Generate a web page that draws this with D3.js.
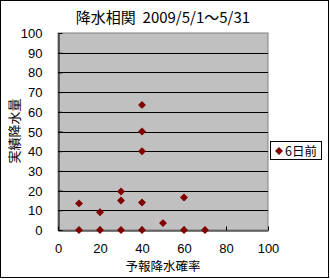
<!DOCTYPE html>
<html><head><meta charset="utf-8">
<script src="https://cdn.jsdelivr.net/npm/d3@7"></script>
<style>body{margin:0;background:#fff}svg{display:block}text{font-family:"Noto Sans CJK JP","Noto Sans",sans-serif;fill:#000}.num{font-family:"Liberation Sans",Arial,sans-serif}</style>
</head><body><svg id="c" width="330" height="279"></svg>
<script>
const title = "降水相関\u00a0\u00a02009/5/1～5/31";
const xTitle = "予報降水確率";
const yTitle = "実績降水量";
const seriesName = "6日前";
const xTicks = [0,20,40,60,80,100];
const yTicks = [0,10,20,30,40,50,60,70,80,90,100];
const forecast = [10,10,20,20,30,30,30,40,40,40,40,40,50,60,60,70];
const actual   = [13.5,0,9,0,19.5,15,0,63.5,50,40,14,0,3.5,16.5,0,0];

const svg = d3.select("#c");
const L=58,R=268,T=33,B=230;
const x = d3.scaleLinear().domain([0,100]).range([L,R]);
const y = d3.scaleLinear().domain([0,100]).range([B,T]);

svg.append("rect").attr("x",0.5).attr("y",0.5).attr("width",328).attr("height",277)
  .attr("fill","#fff").attr("stroke","#000");

svg.append("rect").attr("x",L).attr("y",T).attr("width",R-L).attr("height",B-T)
  .attr("fill","#c0c0c0").attr("stroke","#808080");

// gridlines
svg.append("g").selectAll("line").data(yTicks.filter(d=>d>0&&d<100)).join("line")
  .attr("x1",L).attr("x2",R).attr("y1",d=>Math.round(y(d))+0.5).attr("y2",d=>Math.round(y(d))+0.5)
  .attr("stroke","#000");

// y axis
const ya = svg.append("g").attr("transform",`translate(${L+0.5},0)`)
  .call(d3.axisLeft(y).tickValues(yTicks).tickSize(-4).tickPadding(16).tickSizeOuter(0));
ya.select(".domain").attr("stroke","#000");
ya.selectAll(".tick line").attr("stroke","#000");
ya.selectAll("text").attr("class","num").attr("font-size","13px").attr("dy","0.35em");

// x axis
const xa = svg.append("g").attr("transform",`translate(0,${B+0.5})`)
  .call(d3.axisBottom(x).tickValues(xTicks).tickSize(-4).tickPadding(13).tickSizeOuter(0));
xa.select(".domain").attr("stroke","#000");
xa.selectAll(".tick line").attr("stroke","#000");
xa.selectAll("text").attr("class","num").attr("font-size","13px");

const diamond = d3.symbol().type(d3.symbolDiamond2).size(40);
svg.append("g").selectAll("path").data(forecast.map((f,i)=>[f,actual[i]])).join("path")
  .attr("d",diamond).attr("transform",d=>`translate(${x(d[0])},${y(d[1])})`)
  .attr("fill","#800000");

svg.append("text").attr("x",163).attr("y",23).attr("text-anchor","middle")
  .attr("font-size","15px").text(title);
svg.append("text").attr("x",163).attr("y",271).attr("text-anchor","middle")
  .attr("font-size","12.5px").text(xTitle);
svg.append("text").attr("transform","translate(19,131) rotate(-90)").attr("text-anchor","middle")
  .attr("font-size","13px").text(yTitle);

// legend
svg.append("rect").attr("x",270.5).attr("y",141.5).attr("width",51).attr("height",18)
  .attr("fill","#fff").attr("stroke","#000");
svg.append("path").attr("d",diamond).attr("transform","translate(279,151)").attr("fill","#800000");
svg.append("text").attr("x",285).attr("y",155.5).attr("font-size","12.5px").text(seriesName);
</script></body></html>
